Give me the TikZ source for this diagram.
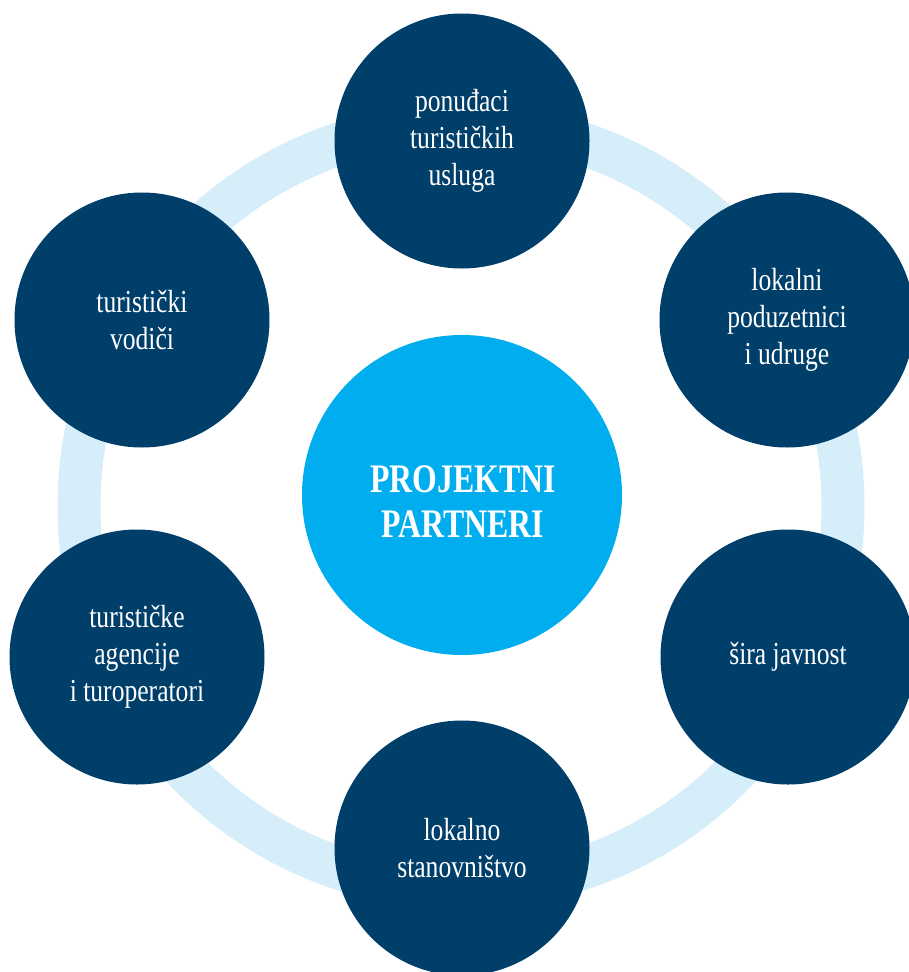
\documentclass[tikz,border=0pt]{standalone}
\usepackage{fontspec}
\newfontfamily\lblfont[FakeStretch=0.8]{Liberation Serif}
\newfontfamily\corefont[FakeStretch=0.785]{Liberation Serif}
\definecolor{navy}{RGB}{1,63,107}
\definecolor{centerblue}{RGB}{0,174,239}
\definecolor{ringblue}{RGB}{214,237,250}
\tikzset{
  outer/.style={circle, fill=navy, minimum size=255pt, inner sep=0pt, text=white,
    align=center, font=\lblfont\fontsize{32}{37}\selectfont},
  core/.style={circle, fill=centerblue, minimum size=320pt, inner sep=0pt},
  coretext/.style={text=white, align=center, inner sep=0pt,
    font=\corefont\bfseries\fontsize{40.5}{45}\selectfont}
}
\begin{document}
\begin{tikzpicture}[x=1pt,y=-1pt]
\useasboundingbox (0,0) rectangle (909,972);
\coordinate (ringc) at (461,506);
\draw[ringblue, line width=43pt] (ringc) circle[radius=382];
\node[core] (center) at (462,495) {};
\node[coretext] (centertext) at (463,502) {PROJEKTNI\\PARTNERI};
\node[outer] (top) at (462,141) {ponuđaci\\turističkih\\usluga};
\node[outer] (tr) at (787,320) {lokalni\\poduzetnici\\i udruge};
\node[outer] (br) at (788,657) {šira javnost};
\node[outer] (bot) at (462,848) {lokalno\\stanovništvo};
\node[outer] (bl) at (137,657) {turističke\\agencije\\i turoperatori};
\node[outer] (tl) at (142,320) {turistički\\vodiči};
\end{tikzpicture}
\end{document}
